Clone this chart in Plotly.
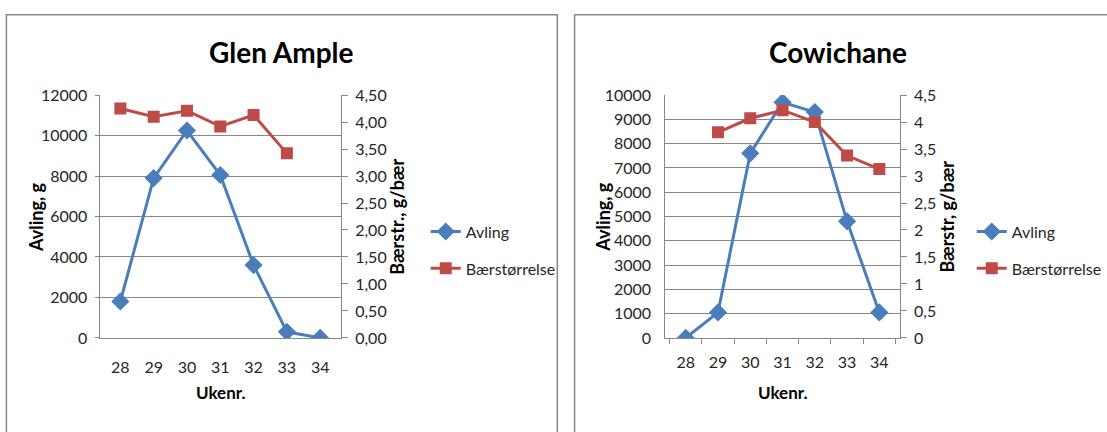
import plotly.graph_objects as go

# Week numbers
weeks = ["28", "29", "30", "31", "32", "33", "34"]

# Glen Ample
glen_avling = [1800, 7900, 10250, 8050, 3600, 300, 0]
glen_baer = [4.25, 4.10, 4.21, 3.92, 4.13, 3.42, None]

# Cowichane
cow_avling = [0, 1050, 7600, 9700, 9300, 4800, 1050]
cow_baer = [None, 3.81, 4.07, 4.22, 4.00, 3.38, 3.13]

# Axis ticks
glen_y_ticks = [0, 2000, 4000, 6000, 8000, 10000, 12000]
glen_y2_ticks = [0, 0.5, 1.0, 1.5, 2.0, 2.5, 3.0, 3.5, 4.0, 4.5]
glen_y2_labels = ["0,00", "0,50", "1,00", "1,50", "2,00", "2,50", "3,00", "3,50", "4,00", "4,50"]
cow_y_ticks = [0, 1000, 2000, 3000, 4000, 5000, 6000, 7000, 8000, 9000, 10000]
cow_y2_ticks = [0, 0.5, 1.0, 1.5, 2.0, 2.5, 3.0, 3.5, 4.0, 4.5]
cow_y2_labels = ["0", "0,5", "1", "1,5", "2", "2,5", "3", "3,5", "4", "4,5"]

W, H = 1107, 432
BLUE = "#4A7EBB"
RED = "#BE4B48"
GRID = "#878787"
TXT = "#262626"
FONT = "Lato, Open Sans, DejaVu Sans, sans-serif"


def px(x):
    return x / W


def py(y):
    return 1 - y / H


fig = go.Figure()

line_blue = dict(color=BLUE, width=3)
line_red = dict(color=RED, width=3)
mk_blue = dict(symbol="diamond", size=14, color=BLUE)
mk_red = dict(symbol="square", size=12, color=RED)

fig.add_trace(go.Scatter(x=weeks, y=glen_avling, name="Avling", mode="lines+markers",
                         line=line_blue, marker=mk_blue, xaxis="x", yaxis="y",
                         legend="legend", legendgroup="a1"))
fig.add_trace(go.Scatter(x=weeks, y=glen_baer, name="Bærstørrelse", mode="lines+markers",
                         line=line_red, marker=mk_red, xaxis="x", yaxis="y2",
                         legend="legend", legendgroup="b1"))
fig.add_trace(go.Scatter(x=weeks, y=cow_avling, name="Avling", mode="lines+markers",
                         line=line_blue, marker=mk_blue, xaxis="x2", yaxis="y3",
                         legend="legend2", legendgroup="a2"))
fig.add_trace(go.Scatter(x=weeks, y=cow_baer, name="Bærstørrelse", mode="lines+markers",
                         line=line_red, marker=mk_red, xaxis="x2", yaxis="y4",
                         legend="legend2", legendgroup="b2"))

tickfont = dict(family=FONT, size=16, color=TXT)
legfont = dict(family=FONT, size=16, color=TXT)

fig.update_layout(
    width=W, height=H,
    margin=dict(l=0, r=0, t=0, b=0),
    paper_bgcolor="white", plot_bgcolor="white",
    font=dict(family=FONT, color=TXT),
    xaxis=dict(domain=[px(101), px(346)], anchor="y", type="category",
               showline=True, linecolor=GRID, linewidth=1, showgrid=False,
               ticks="", tickfont=tickfont, ticklabelstandoff=15),
    yaxis=dict(domain=[py(343), py(89)], anchor="x", range=[0, 12000],
               tickvals=glen_y_ticks, ticktext=[str(v) for v in glen_y_ticks],
               showline=True, linecolor=GRID, linewidth=1,
               showgrid=True, gridcolor=GRID, gridwidth=1, zeroline=False,
               ticks="outside", ticklen=4, tickcolor=GRID, tickfont=tickfont,
               ticklabelstandoff=4),
    yaxis2=dict(overlaying="y", side="right", anchor="x", range=[0, 4.5],
                tickvals=glen_y2_ticks, ticktext=glen_y2_labels,
                showline=True, linecolor=GRID, linewidth=1, showgrid=False,
                zeroline=False, ticks="outside", ticklen=6, tickcolor=GRID,
                tickfont=tickfont, ticklabelstandoff=4),
    xaxis2=dict(domain=[px(675), px(913)], anchor="y3", type="category",
                showline=True, linecolor=GRID, linewidth=1, showgrid=False,
                ticks="outside", tickson="boundaries", ticklen=5, tickcolor=GRID,
                tickfont=tickfont, ticklabelstandoff=10),
    yaxis3=dict(domain=[py(343), py(89)], anchor="x2", range=[0, 10000],
                tickvals=cow_y_ticks, ticktext=[str(v) for v in cow_y_ticks],
                showline=True, linecolor=GRID, linewidth=1,
                showgrid=True, gridcolor=GRID, gridwidth=1, zeroline=False,
                ticks="", tickfont=tickfont, ticklabelstandoff=10),
    yaxis4=dict(overlaying="y3", side="right", anchor="x2", range=[0, 4.5],
                tickvals=cow_y2_ticks, ticktext=cow_y2_labels,
                showline=True, linecolor=GRID, linewidth=1, showgrid=False,
                zeroline=False, ticks="outside", ticklen=6, tickcolor=GRID,
                tickfont=tickfont, ticklabelstandoff=4),
    legend=dict(x=px(432), y=py(214), xanchor="left", yanchor="top",
                font=legfont, tracegroupgap=13, bgcolor="rgba(0,0,0,0)"),
    legend2=dict(x=px(986), y=py(214), xanchor="left", yanchor="top",
                 font=legfont, tracegroupgap=13, bgcolor="rgba(0,0,0,0)"),
    showlegend=True,
)

# Chart frames
fig.add_shape(type="rect", xref="paper", yref="paper",
              x0=px(6.5), x1=px(565.5), y0=-0.2, y1=py(5),
              line=dict(color=GRID, width=1.5), layer="below")
fig.add_shape(type="rect", xref="paper", yref="paper",
              x0=px(583), x1=1.2, y0=-0.2, y1=py(5),
              line=dict(color=GRID, width=1.5), layer="below")

title_font = dict(family=FONT, size=28, color="black", weight="bold")
vtitle_font = dict(family=FONT, size=18, color="black", weight="bold")
htitle_font = dict(family=FONT, size=17, color="black", weight="bold")


def note(text, x, y, font, angle=0):
    fig.add_annotation(text=text, x=px(x), y=py(y), xref="paper", yref="paper",
                       showarrow=False, font=font, textangle=angle,
                       xanchor="center", yanchor="middle")


note("Glen Ample", 286, 44, title_font)
note("Cowichane", 850, 44, title_font)
note("Avling, g", 36, 216, vtitle_font, -90)
note("Bærstr., g/bær", 402, 216, vtitle_font, -90)
note("Ukenr.", 224, 400, htitle_font)
note("Avling, g", 611, 216, vtitle_font, -90)
note("Bærstr, g/bær", 960, 216, vtitle_font, -90)
note("Ukenr.", 794, 400, htitle_font)

fig.write_html("out.html")
